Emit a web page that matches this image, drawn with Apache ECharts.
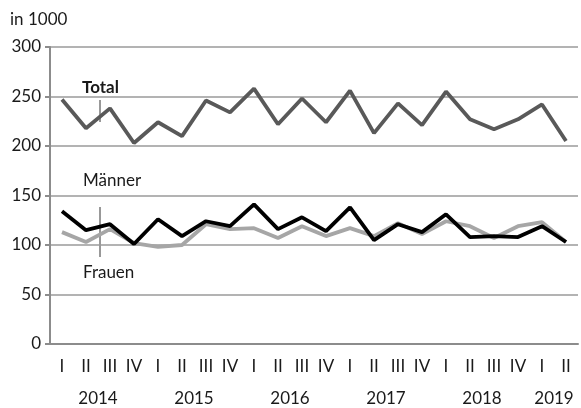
<!DOCTYPE html>
<html>
<head>
<meta charset="utf-8">
<script src="https://cdn.jsdelivr.net/npm/echarts@6/dist/echarts.min.js"></script>
<style>
html,body{margin:0;padding:0;background:#fff;}
#chart{width:581px;height:408px;}
</style>
</head>
<body>
<div id="chart"></div>
<script>
const quarters = ['I','II','III','IV','I','II','III','IV','I','II','III','IV','I','II','III','IV','I','II','III','IV','I','II'];
const yearLabels = {2:'2014',6:'2015',10:'2016',14:'2017',18:'2018',21:'2019'};
const total  = [247,218,238,203,224,210,246,234,258,222,248,224,256,213,243,221,255,227,217,227,242,205];
const maenner= [134,115,121,101,126,109,124,119,141,116,128,114,138,105,121,113,131,108,109,108,119,103];
const frauen = [113,103,116,102,98,100,121,116,117,107,119,109,117,109,122,111,124,119,107,119,123,103];
const yTicks = {min:0, max:300, interval:50};

const FONT = 'Lato';
const FS = 17;
const chart = echarts.init(document.getElementById('chart'), null, {renderer:'canvas'});
chart.setOption({
  animation:false,
  grid:{left:50, right:1, top:47, bottom:64, containLabel:false},
  xAxis:[{
    type:'category', data:quarters, boundaryGap:true,
    axisLine:{show:true, lineStyle:{color:'#8c8c8c', width:2}},
    axisTick:{show:false},
    axisLabel:{color:'#1a1a1a', fontFamily:FONT, fontSize:FS, margin:14, interval:0}
  },{
    type:'value', min:0, max:22, interval:1, position:'bottom',
    axisLine:{show:false}, axisTick:{show:false}, splitLine:{show:false},
    axisLabel:{color:'#1a1a1a', fontFamily:FONT, fontSize:FS, margin:46,
      formatter:v=>yearLabels[v]||''}
  }],
  yAxis:{
    type:'value', min:yTicks.min, max:yTicks.max, interval:yTicks.interval,
    axisLine:{show:true, lineStyle:{color:'#8c8c8c', width:2}},
    axisTick:{show:true, length:5, lineStyle:{color:'#8c8c8c', width:2}},
    splitLine:{show:true, lineStyle:{color:'#9a9a9a', width:1.5}},
    axisLabel:{color:'#1a1a1a', fontFamily:FONT, fontSize:FS, margin:9}
  },
  series:[
    {name:'Frauen', type:'line', data:frauen, symbol:'none', lineStyle:{color:'#a6a6a6', width:3.8}, z:2},
    {name:'Männer', type:'line', data:maenner, symbol:'none', lineStyle:{color:'#000000', width:3.8}, z:3},
    {name:'Total', type:'line', data:total, symbol:'none', lineStyle:{color:'#595959', width:3.8}, z:4}
  ],
  graphic:[
    {type:'text', left:10, top:11, style:{text:'in 1000', fill:'#1a1a1a', font:'17px Lato'}},
    {type:'text', left:82, top:79, style:{text:'Total', fill:'#1a1a1a', font:'bold 17px Lato'}},
    {type:'line', shape:{x1:100, y1:100, x2:100, y2:122}, style:{stroke:'#333', lineWidth:1}},
    {type:'text', left:83, top:172, style:{text:'Männer', fill:'#1a1a1a', font:'17px Lato'}},
    {type:'line', shape:{x1:100, y1:207, x2:100, y2:257}, style:{stroke:'#333', lineWidth:1}},
    {type:'text', left:83, top:264, style:{text:'Frauen', fill:'#1a1a1a', font:'17px Lato'}}
  ]
});
</script>
</body>
</html>
